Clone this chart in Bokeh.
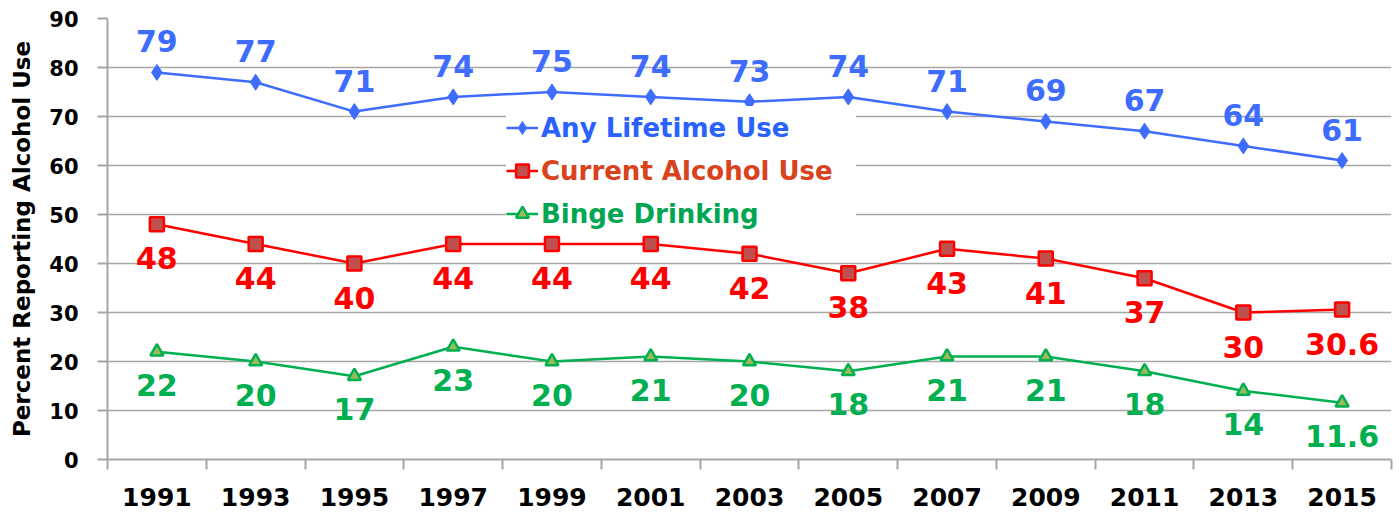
from bokeh.plotting import figure
from bokeh.models import ColumnDataSource, LabelSet, Legend, LegendItem, FixedTicker
from bokeh.core.properties import value
from bokeh.embed import file_html
from bokeh.resources import INLINE

years = ["1991", "1993", "1995", "1997", "1999", "2001", "2003",
         "2005", "2007", "2009", "2011", "2013", "2015"]
lifetime = [79, 77, 71, 74, 75, 74, 73, 74, 71, 69, 67, 64, 61]
current = [48, 44, 40, 44, 44, 44, 42, 38, 43, 41, 37, 30, 30.6]
binge = [22, 20, 17, 23, 20, 21, 20, 18, 21, 21, 18, 14, 11.6]
y_ticks = [0, 10, 20, 30, 40, 50, 60, 70, 80, 90]

idx = list(range(len(years)))
xc = [i + 0.5 for i in idx]

def fmt(v):
    return f"{v:g}"

src = ColumnDataSource(dict(
    x=xc, life=lifetime, cur=current, binge=binge,
    life_t=[fmt(v) for v in lifetime],
    cur_t=[fmt(v) for v in current],
    binge_t=[fmt(v) for v in binge],
))

FONT = "DejaVu Sans"
BLUE = "#3D6CFF"
RED = "#FF0000"
GREEN = "#00B050"
GRAY = "#A6A6A6"

p = figure(width=1399, height=512, x_range=(0, len(years)), y_range=(0, 90),
           output_backend="svg", toolbar_location=None,
           min_border_left=107, min_border_right=8, min_border_top=18,
           min_border_bottom=53)
p.outline_line_color = None
p.background_fill_color = "white"
p.border_fill_color = "white"

p.xgrid.grid_line_color = None
p.ygrid.grid_line_color = GRAY
p.ygrid.grid_line_width = 1.5

# y axis
p.yaxis.ticker = FixedTicker(ticks=y_ticks)
p.yaxis.axis_line_color = GRAY
p.yaxis.axis_line_width = 2
p.yaxis.major_tick_line_color = GRAY
p.yaxis.major_tick_line_width = 2
p.yaxis.major_tick_out = 10
p.yaxis.major_tick_in = 0
p.yaxis.minor_tick_line_color = None
p.yaxis.major_label_text_font = FONT
p.yaxis.major_label_text_font_style = "bold"
p.yaxis.major_label_text_font_size = "21px"
p.yaxis.major_label_text_color = "black"
p.yaxis.major_label_standoff = 19
p.yaxis.axis_label = "Percent Reporting Alcohol Use"
p.yaxis.axis_label_text_font = FONT
p.yaxis.axis_label_text_font_style = "bold"
p.yaxis.axis_label_text_font_size = "23px"
p.yaxis.axis_label_text_color = "black"
p.yaxis.axis_label_standoff = 11

# x axis
p.xaxis.ticker = FixedTicker(ticks=xc, minor_ticks=idx + [len(years)])
p.xaxis.major_label_overrides = {x: y for x, y in zip(xc, years)}
p.xaxis.axis_line_color = GRAY
p.xaxis.axis_line_width = 2
p.xaxis.major_tick_line_color = None
p.xaxis.major_tick_out = 0
p.xaxis.major_tick_in = 0
p.xaxis.minor_tick_line_color = GRAY
p.xaxis.minor_tick_line_width = 2
p.xaxis.minor_tick_out = 10
p.xaxis.minor_tick_in = 0
p.xaxis.major_label_text_font = FONT
p.xaxis.major_label_text_font_style = "bold"
p.xaxis.major_label_text_font_size = "25px"
p.xaxis.major_label_text_color = "black"
p.xaxis.major_label_standoff = 18

# series
l1 = p.line("x", "life", source=src, line_color=BLUE, line_width=2.5)
m1 = p.scatter("x", "life", source=src, marker="diamond", size=16,
               fill_color=BLUE, line_color=BLUE, line_width=1)
l2 = p.line("x", "cur", source=src, line_color=RED, line_width=2.5)
m2 = p.scatter("x", "cur", source=src, marker="square", size=14,
               fill_color="#C0504D", line_color=RED, line_width=2.5)
l3 = p.line("x", "binge", source=src, line_color=GREEN, line_width=2.5)
m3 = p.scatter("x", "binge", source=src, marker="triangle", size=13,
               fill_color="#9BBB59", line_color=GREEN, line_width=2.5)

for col, color, off in (("life", BLUE, 31), ("cur", RED, -34), ("binge", GREEN, -33)):
    p.add_layout(LabelSet(x="x", y=col, text=col + "_t", source=src,
                          text_align="center", text_baseline="middle",
                          y_offset=off, text_color=color,
                          text_font=value(FONT), text_font_style="bold",
                          text_font_size="30px"))

legend_specs = [
    ("Any Lifetime Use", [l1, m1], "#2A62FF", 310),
    ("Current Alcohol Use", [l2, m2], "#D8421C", 267),
    ("Binge Drinking", [l3, m3], "#00A651", 224),
]
for label, rends, tcolor, ypos in legend_specs:
    leg = Legend(items=[LegendItem(label=label, renderers=rends)],
                 location=(399, ypos), padding=0, margin=0, spacing=0,
                 glyph_width=32, glyph_height=43, label_height=43,
                 label_width=315, label_standoff=3,
                 border_line_color=None, background_fill_color="white",
                 background_fill_alpha=1.0,
                 label_text_font=FONT, label_text_font_style="bold",
                 label_text_font_size="26px", label_text_color=tcolor)
    p.add_layout(leg)

open("out.html", "w").write(file_html(p, INLINE))
